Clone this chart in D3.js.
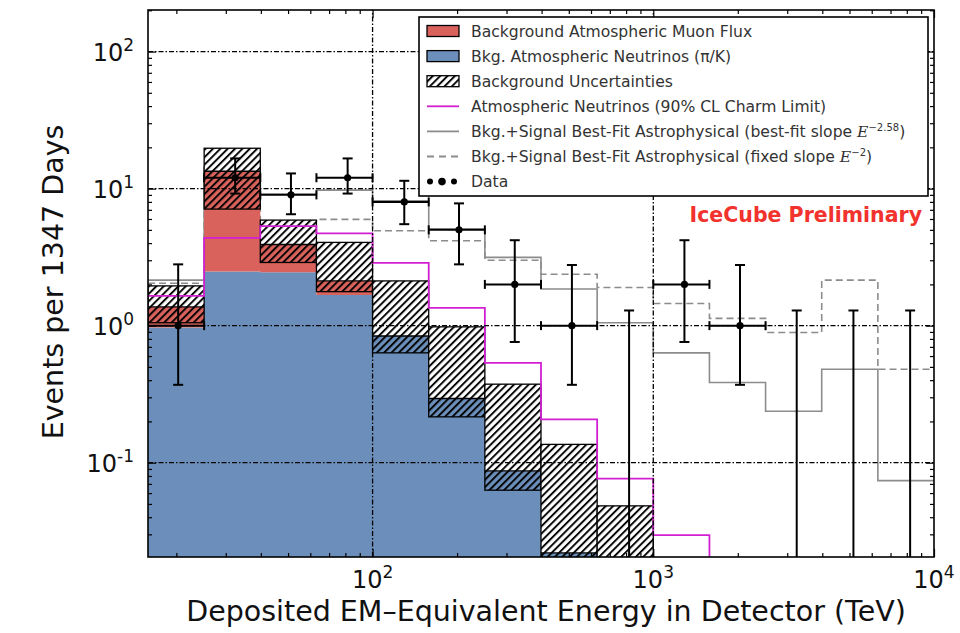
<!DOCTYPE html>
<html>
<head>
<meta charset="utf-8">
<script src="https://cdn.jsdelivr.net/npm/d3@7"></script>
<style>
  body { margin: 0; background: #fff; }
  svg { display: block; }
  text { font-family: "DejaVu Sans", sans-serif; }
</style>
</head>
<body>
<svg id="chart" width="960" height="633"></svg>
<script>
// Energy bin edges (TeV), 0.2 decades wide
const binEdges = [15.85, 25.12, 39.81, 63.10, 100, 158.5, 251.2, 398.1, 631.0, 1000, 1585, 2512, 3981, 6310, 10000];

// Expected background per bin (events)
const atmNeutrinos = [0.97, 2.48, 2.45, 1.67, 0.84, 0.294, 0.087, 0.022, 0.012, 0.006, 0.003, 0.0015, 0.0008, 0.0004];
const atmMuons     = [0.40, 10.9, 1.46, 0.45, 0, 0, 0, 0, 0, 0, 0, 0, 0, 0];

// Background uncertainty band (lower / upper bound of the total)
const uncLow  = [1.05, 7.09, 2.89, 1.77, 0.633, 0.216, 0.063, 0.015, 0.007, 0.004, 0.002, 0.001, 0.0005, 0.0003];
const uncHigh = [1.95, 19.7, 5.89, 4.05, 2.12, 0.98, 0.374, 0.136, 0.0484, 0.012, 0.006, 0.003, 0.0016, 0.0008];

// Atmospheric neutrinos with the 90% CL charm limit
const charmLimit = [1.65, 4.37, 5.33, 4.71, 2.87, 1.35, 0.535, 0.207, 0.0765, 0.0296, 0.011, 0.005, 0.002, 0.001];

// Background + best-fit astrophysical signal
const fitBestSlope  = [2.15, 14.4, 9.1, 9.75, 8.15, 5.06, 3.15, 1.85, 1.05, 0.633, 0.385, 0.237, 0.48, 0.074];
const fitFixedSlope = [2.04, 14.1, 5.8, 5.96, 4.92, 4.16, 3.0, 2.37, 1.9, 1.45, 1.13, 0.89, 2.15, 0.48];

// Observed events
const dataEnergy  = [20.3, 32.4, 51.2, 81.5, 129.7, 203.2, 321, 513, 820, 1291, 2037, 3243, 5164, 8222];
const dataCounts  = [1, 12, 9, 12, 8, 5, 2, 1, 0, 2, 1, 0, 0, 0];
const dataErrLow  = [0.37, 9.2, 6.5, 9.2, 5.5, 2.8, 0.76, 0.37, 0, 0.76, 0.37, 0, 0, 0];
const dataErrHigh = [2.8, 16.6, 12.9, 16.6, 11.4, 7.8, 4.2, 2.77, 1.29, 4.2, 2.77, 1.29, 1.29, 1.29];

// Axis ticks
const xMajorTicks = [100, 1000, 10000];
const xTickExponents = ["2", "3", "4"];
const yMajorTicks = [0.1, 1, 10, 100];
const yTickExponents = ["-1", "0", "1", "2"];

const legendEntries = [
  { kind: "patch", fill: "#d9625c", text: "Background Atmospheric Muon Flux" },
  { kind: "patch", fill: "#6b8fba", text: "Bkg. Atmospheric Neutrinos (\u03c0/K)" },
  { kind: "hatch", text: "Background Uncertainties" },
  { kind: "line", stroke: "#d21fd2", text: "Atmospheric Neutrinos (90% CL Charm Limit)" },
  { kind: "line", stroke: "#8c8c8c", text: "Bkg.+Signal Best-Fit Astrophysical (best-fit slope ", sup: "\u22122.58" },
  { kind: "dash", stroke: "#8c8c8c", text: "Bkg.+Signal Best-Fit Astrophysical (fixed slope ", sup: "\u22122" },
  { kind: "dots", text: "Data" }
];

const W = 960, H = 633;
const margin = { left: 148, right: 26, top: 10, bottom: 76 };
const svg = d3.select("#chart");

const x = d3.scaleLog().domain([10 ** 1.2, 1e4]).range([margin.left, W - margin.right]);
const y = d3.scaleLog().domain([0.0205, 201]).range([H - margin.bottom, margin.top]);
const x0 = margin.left, x1 = W - margin.right, y0 = H - margin.bottom, y1 = margin.top;

const RED = "#d9625c", BLUE = "#6b8fba", MAGENTA = "#d21fd2", GREY = "#8c8c8c";

const defs = svg.append("defs");
defs.append("clipPath").attr("id", "plotClip")
  .append("rect").attr("x", x0).attr("y", y1).attr("width", x1 - x0).attr("height", y0 - y1);
const hatch = defs.append("pattern").attr("id", "hatch")
  .attr("patternUnits", "userSpaceOnUse").attr("width", 5.2).attr("height", 5.2)
  .attr("patternTransform", "rotate(45)");
hatch.append("line").attr("x1", 1).attr("y1", 0).attr("x2", 1).attr("y2", 5.2)
  .attr("stroke", "#000").attr("stroke-width", 1.9);

const plot = svg.append("g").attr("clip-path", "url(#plotClip)");
const bins = d3.range(binEdges.length - 1);
const yc = v => (v > 0 ? Math.min(y(v), y0 + 5) : y0 + 5);

// Step path helper for per-bin values
function stepPath(values) {
  let p = "";
  values.forEach((v, i) => {
    const xa = x(binEdges[i]), xb = x(binEdges[i + 1]), yy = yc(v);
    p += (i === 0 ? "M" : "L") + xa + "," + yy + "L" + xb + "," + yy;
  });
  return p;
}
// Closed step area between two per-bin profiles (upper, lower)
function stepArea(upper, lower) {
  let p = stepPath(upper);
  for (let i = lower.length - 1; i >= 0; i--) {
    const xa = x(binEdges[i]), xb = x(binEdges[i + 1]), yy = lower[i] === null ? y0 + 5 : yc(lower[i]);
    p += "L" + xb + "," + yy + "L" + xa + "," + yy;
  }
  return p + "Z";
}

// Signal + background model lines (underneath the stack)
plot.append("path").attr("d", stepPath(fitBestSlope))
  .attr("fill", "none").attr("stroke", GREY).attr("stroke-width", 1.6);
plot.append("path").attr("d", stepPath(fitFixedSlope))
  .attr("fill", "none").attr("stroke", GREY).attr("stroke-width", 1.6).attr("stroke-dasharray", "7,4");

// Stacked background histogram
const totals = atmNeutrinos.map((v, i) => v + atmMuons[i]);
plot.append("path").attr("d", stepArea(atmNeutrinos, atmNeutrinos.map(() => null))).attr("fill", BLUE);
plot.append("path").attr("d", stepArea(totals, atmNeutrinos)).attr("fill", RED);

// Uncertainty band: white-backed hatch above the total, plain hatch over the fill below it
bins.forEach(i => {
  const xa = x(binEdges[i]), w = x(binEdges[i + 1]) - xa;
  const yt = yc(totals[i]), yh = yc(uncHigh[i]), yl = yc(uncLow[i]);
  const g = plot.append("g");
  g.append("rect").attr("x", xa).attr("y", yh).attr("width", w).attr("height", yt - yh).attr("fill", "#fff");
  g.append("rect").attr("x", xa).attr("y", yh).attr("width", w).attr("height", yl - yh)
    .attr("fill", "url(#hatch)").attr("stroke", "#000").attr("stroke-width", 1.3);
  g.append("line").attr("x1", xa).attr("x2", xa + w).attr("y1", yt).attr("y2", yt)
    .attr("stroke", "#000").attr("stroke-width", 1.3);
});

// Charm-limit line
plot.append("path").attr("d", stepPath(charmLimit) + "L" + x(binEdges[10]) + "," + (y0 + 5))
  .attr("fill", "none").attr("stroke", MAGENTA).attr("stroke-width", 1.8);

// Grid (dash-dot) at major ticks
const grid = svg.append("g").attr("stroke", "#000").attr("stroke-width", 1.3).attr("stroke-dasharray", "5,2,1.5,2");
grid.selectAll("line.gy").data(yMajorTicks).join("line").attr("class", "gy")
  .attr("x1", x0).attr("x2", x1).attr("y1", d => y(d)).attr("y2", d => y(d));
grid.selectAll("line.gx").data(xMajorTicks.slice(0, 2)).join("line").attr("class", "gx")
  .attr("y1", y0).attr("y2", y1).attr("x1", d => x(d)).attr("x2", d => x(d));

// Data points with error bars
const dg = svg.append("g").attr("stroke", "#000").attr("stroke-width", 2).attr("clip-path", "url(#plotClip)");
bins.forEach(i => {
  const cx = x(dataEnergy[i]);
  const top = y(dataErrHigh[i]);
  const bot = dataErrLow[i] > 0 ? y(dataErrLow[i]) : y0 + 5;
  dg.append("line").attr("x1", cx).attr("x2", cx).attr("y1", top).attr("y2", bot);
  dg.append("line").attr("x1", cx - 5).attr("x2", cx + 5).attr("y1", top).attr("y2", top);
  if (dataCounts[i] > 0) {
    const cy = y(dataCounts[i]), xa = x(binEdges[i]), xb = x(binEdges[i + 1]);
    dg.append("line").attr("x1", cx - 5).attr("x2", cx + 5).attr("y1", bot).attr("y2", bot);
    dg.append("line").attr("x1", xa).attr("x2", xb).attr("y1", cy).attr("y2", cy);
    dg.append("line").attr("x1", xa).attr("x2", xa).attr("y1", cy - 4.5).attr("y2", cy + 4.5);
    dg.append("line").attr("x1", xb).attr("x2", xb).attr("y1", cy - 4.5).attr("y2", cy + 4.5);
    dg.append("circle").attr("cx", cx).attr("cy", cy).attr("r", 3.6).attr("fill", "#000").attr("stroke", "none");
  }
});

// Axes: inward ticks on all four sides
const xMinor = [], yMinor = [];
for (let e = 1; e <= 3; e++) for (let m = 2; m <= 9; m++) xMinor.push(m * 10 ** e);
for (let e = -2; e <= 2; e++) for (let m = 2; m <= 9; m++) yMinor.push(m * 10 ** e);
const xMinorIn = xMinor.filter(v => v > x.domain()[0] && v < x.domain()[1]);
const yMinorIn = yMinor.filter(v => v > y.domain()[0] && v < y.domain()[1]);

function addAxis(axisFn, scale, transform, values, size) {
  const g = svg.append("g").attr("transform", transform)
    .call(axisFn(scale).tickValues(values).tickSize(-size).tickFormat(""));
  g.select(".domain").remove();
  g.selectAll("line").attr("stroke", "#000").attr("stroke-width", 1.2);
}
addAxis(d3.axisBottom, x, `translate(0,${y0})`, xMajorTicks, 8);
addAxis(d3.axisBottom, x, `translate(0,${y0})`, xMinorIn, 4);
addAxis(d3.axisTop, x, `translate(0,${y1})`, xMajorTicks, 8);
addAxis(d3.axisTop, x, `translate(0,${y1})`, xMinorIn, 4);
addAxis(d3.axisLeft, y, `translate(${x0},0)`, yMajorTicks, 8);
addAxis(d3.axisLeft, y, `translate(${x0},0)`, yMinorIn, 4);
addAxis(d3.axisRight, y, `translate(${x1},0)`, yMajorTicks, 8);
addAxis(d3.axisRight, y, `translate(${x1},0)`, yMinorIn, 4);

// Frame
svg.append("rect").attr("x", x0).attr("y", y1).attr("width", x1 - x0).attr("height", y0 - y1)
  .attr("fill", "none").attr("stroke", "#000").attr("stroke-width", 1.6);

// Tick labels as powers of ten
xMajorTicks.forEach((v, k) => {
  const t = svg.append("text").attr("x", x(v)).attr("y", y0 + 31).attr("text-anchor", "middle")
    .attr("font-size", 24).attr("fill", "#111");
  t.append("tspan").text("10");
  t.append("tspan").attr("dy", -10).attr("font-size", 17).text(xTickExponents[k]);
});
yMajorTicks.forEach((v, k) => {
  const t = svg.append("text").attr("x", x0 - 14).attr("y", y(v) + 9).attr("text-anchor", "end")
    .attr("font-size", 24).attr("fill", "#111");
  t.append("tspan").text("10");
  t.append("tspan").attr("dy", -10).attr("font-size", 17).text(yTickExponents[k]);
});

// Axis titles
svg.append("text").attr("x", 546).attr("y", 621).attr("text-anchor", "middle")
  .attr("font-size", 28.5).attr("fill", "#111").text("Deposited EM\u2013Equivalent Energy in Detector (TeV)");
svg.append("text").attr("transform", `translate(63,282) rotate(-90)`).attr("text-anchor", "middle")
  .attr("font-size", 28.5).attr("fill", "#111").text("Events per 1347 Days");

// Watermark
svg.append("text").attr("x", 922).attr("y", 222).attr("text-anchor", "end")
  .attr("font-family", "Liberation Sans, Arial, sans-serif").attr("font-weight", "bold")
  .attr("font-size", 20.5).attr("fill", "#f2322c").text("IceCube Preliminary");

// Legend
const lg = svg.append("g");
lg.append("rect").attr("x", 419).attr("y", 17).attr("width", 509).attr("height", 179)
  .attr("fill", "#fff").attr("stroke", "#000").attr("stroke-width", 1.6);
legendEntries.forEach((d, k) => {
  const cy = 31 + k * 25.1;
  if (d.kind === "patch") {
    lg.append("rect").attr("x", 427).attr("y", cy - 5.5).attr("width", 32).attr("height", 11)
      .attr("fill", d.fill).attr("stroke", "#000").attr("stroke-width", 1.3);
  } else if (d.kind === "hatch") {
    lg.append("rect").attr("x", 427).attr("y", cy - 5.5).attr("width", 32).attr("height", 11)
      .attr("fill", "url(#hatch)").attr("stroke", "#000").attr("stroke-width", 1.3);
  } else if (d.kind === "line" || d.kind === "dash") {
    lg.append("line").attr("x1", 427).attr("x2", 459).attr("y1", cy).attr("y2", cy)
      .attr("stroke", d.stroke).attr("stroke-width", 1.8)
      .attr("stroke-dasharray", d.kind === "dash" ? "7,5" : null);
  } else {
    [[430, 3], [442, 3.8], [454, 3]].forEach(([cx, r]) =>
      lg.append("circle").attr("cx", cx).attr("cy", cy).attr("r", r).attr("fill", "#000"));
  }
  const t = lg.append("text").attr("x", 471).attr("y", cy + 5.5).attr("font-size", 15.6).attr("fill", "#333");
  t.append("tspan").text(d.text);
  if (d.sup) {
    t.append("tspan").attr("font-style", "italic").attr("font-family", "DejaVu Serif, serif").text("E");
    t.append("tspan").attr("dy", -6).attr("font-size", 10).text(d.sup);
    t.append("tspan").attr("dy", 6).text(")");
  }
});
</script>
</body>
</html>
